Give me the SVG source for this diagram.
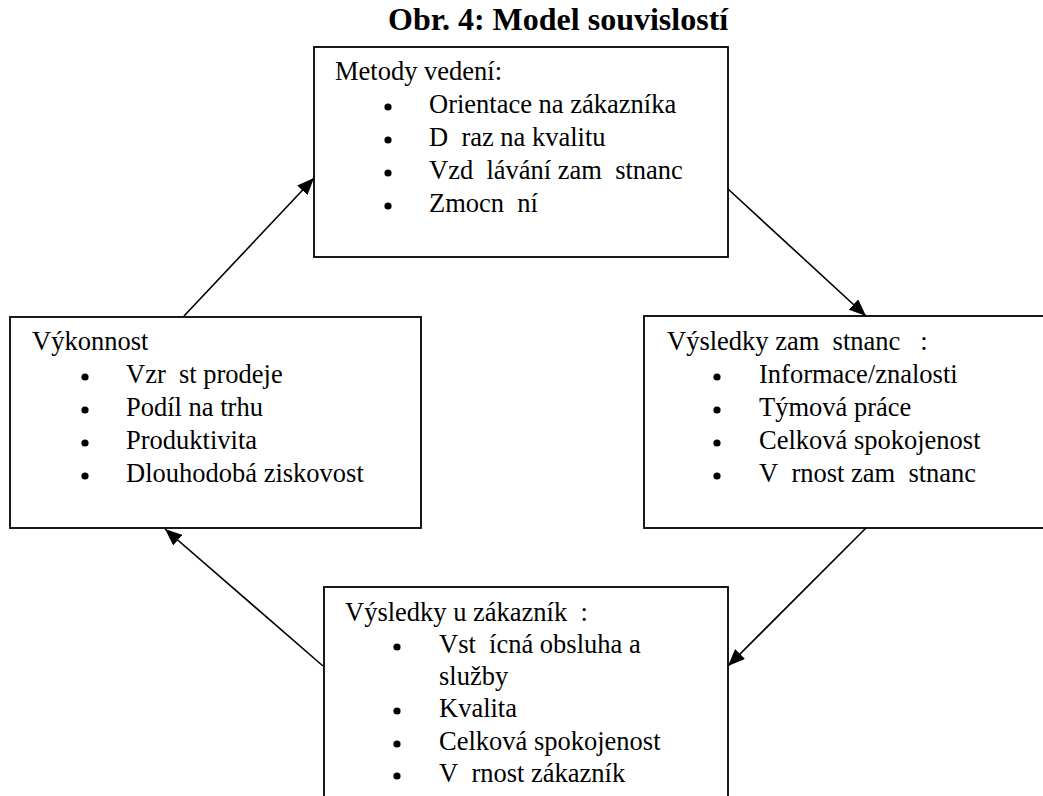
<svg xmlns="http://www.w3.org/2000/svg" width="1043" height="796" viewBox="0 0 1043 796">
  <style>
    .box { fill: #fff; stroke: #000; stroke-width: 1.8; }
    .txt { font-family: "Liberation Serif", "Times New Roman", serif; font-size: 26.5px; fill: #000; }
    .title { font-family: "Liberation Serif", "Times New Roman", serif; font-size: 32px; font-weight: bold; fill: #000; }
    .dot { fill: #000; }
    .conn { stroke: #000; stroke-width: 1.6; fill: none; marker-end: url(#head); }
  </style>
  <defs>
    <marker id="head" markerUnits="userSpaceOnUse" markerWidth="18" markerHeight="14" refX="17" refY="7" orient="auto">
      <path d="M0,0 L17,7 L0,14 Z" fill="#000"/>
    </marker>
  </defs>
  <rect width="1043" height="796" fill="#fff"/>

  <text class="title" x="388" y="30">Obr. 4: Model souvislostí</text>

  <!-- connectors -->
  <g id="connectors">
    <line class="conn" x1="184" y1="316" x2="314" y2="178"/>
    <line class="conn" x1="728" y1="189" x2="866" y2="316"/>
    <line class="conn" x1="866" y1="528" x2="728" y2="666"/>
    <line class="conn" x1="323" y1="666" x2="165" y2="529"/>
  </g>

  <g id="metody">
    <rect class="box" x="314" y="47" width="414" height="210"/>
    <g class="txt">
      <text x="335" y="80">Metody vedení:</text>
      <text x="429" y="113">Orientace na zákazníka</text>
      <text x="429" y="146" xml:space="preserve">D&#8194;raz na kvalitu</text>
      <text x="429" y="179" xml:space="preserve">Vzd&#8194;lávání zam&#8194;stnanc</text>
      <text x="429" y="212" xml:space="preserve">Zmocn&#8194;ní</text>
    </g>
    <circle class="dot" cx="388" cy="107" r="3.6"/>
    <circle class="dot" cx="388" cy="140" r="3.6"/>
    <circle class="dot" cx="388" cy="173" r="3.6"/>
    <circle class="dot" cx="388" cy="206" r="3.6"/>
  </g>

  <g id="vykonnost">
    <rect class="box" x="10" y="317" width="411" height="211"/>
    <g class="txt">
      <text x="32" y="350">Výkonnost</text>
      <text x="126" y="383" xml:space="preserve">Vzr&#8194;st prodeje</text>
      <text x="126" y="416">Podíl na trhu</text>
      <text x="126" y="449">Produktivita</text>
      <text x="126" y="482">Dlouhodobá ziskovost</text>
    </g>
    <circle class="dot" cx="85" cy="377" r="3.6"/>
    <circle class="dot" cx="85" cy="410" r="3.6"/>
    <circle class="dot" cx="85" cy="443" r="3.6"/>
    <circle class="dot" cx="85" cy="476" r="3.6"/>
  </g>

  <g id="zamestnanci">
    <rect class="box" x="644" y="316" width="420" height="212"/>
    <g class="txt">
      <text x="667" y="350" xml:space="preserve">Výsledky zam&#8194;stnanc&#8194; :</text>
      <text x="759" y="383">Informace/znalosti</text>
      <text x="759" y="416">Týmová práce</text>
      <text x="759" y="449">Celková spokojenost</text>
      <text x="759" y="482" xml:space="preserve">V&#8194;rnost zam&#8194;stnanc</text>
    </g>
    <circle class="dot" cx="717" cy="377" r="3.6"/>
    <circle class="dot" cx="717" cy="410" r="3.6"/>
    <circle class="dot" cx="717" cy="443" r="3.6"/>
    <circle class="dot" cx="717" cy="476" r="3.6"/>
  </g>

  <g id="zakaznici">
    <rect class="box" x="324" y="587" width="404" height="240"/>
    <g class="txt">
      <text x="345" y="621" xml:space="preserve">Výsledky u zákazník&#8194;:</text>
      <text x="439" y="653" xml:space="preserve">Vst&#8194;ícná obsluha a</text>
      <text x="439" y="685">služby</text>
      <text x="439" y="717">Kvalita</text>
      <text x="439" y="750">Celková spokojenost</text>
      <text x="439" y="782" xml:space="preserve">V&#8194;rnost zákazník</text>
    </g>
    <circle class="dot" cx="397" cy="647" r="3.6"/>
    <circle class="dot" cx="397" cy="711" r="3.6"/>
    <circle class="dot" cx="397" cy="744" r="3.6"/>
    <circle class="dot" cx="397" cy="776" r="3.6"/>
  </g>
</svg>
